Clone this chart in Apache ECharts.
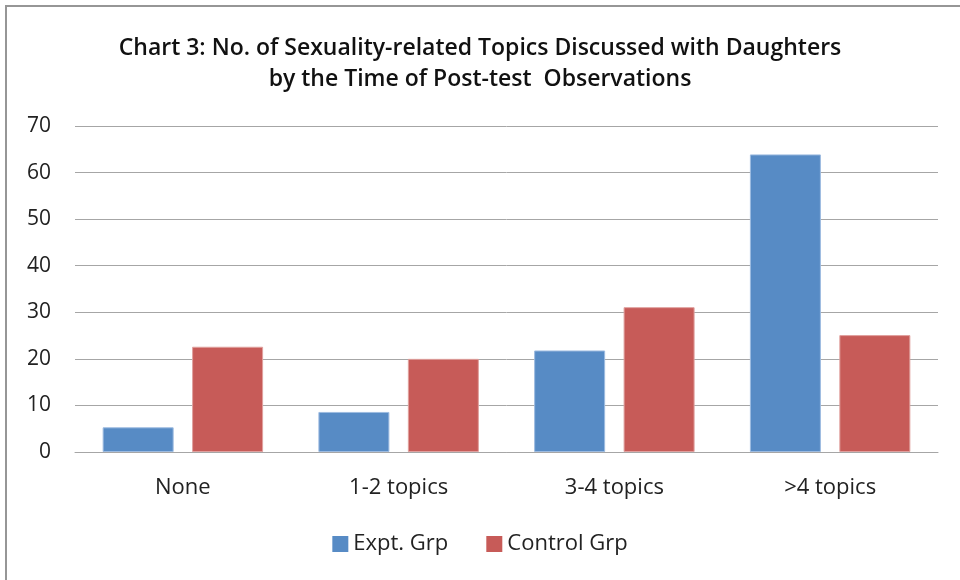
<!DOCTYPE html>
<html>
<head>
<meta charset="utf-8">
<script src="https://cdn.jsdelivr.net/npm/echarts@6/dist/echarts.min.js"></script>
<style>
  html, body { margin: 0; padding: 0; background: #fff; }
  #main { width: 960px; height: 580px; }
</style>
</head>
<body>
<div id="main"></div>
<script>
// chart data
var categories = ['None', '1-2 topics', '3-4 topics', '>4 topics'];
var exptGrp = [5.3, 8.6, 21.8, 63.9];
var controlGrp = [22.6, 20.0, 31.1, 25.1];
var yTicks = { min: 0, max: 70, interval: 10 };

var myChart = echarts.init(document.getElementById('main'));
var font = 'Open Sans';

var option = {
  backgroundColor: '#fff',
  animation: false,
  title: {
    text: 'Chart 3: No. of Sexuality-related Topics Discussed with Daughters\nby the Time of Post-test  Observations',
    left: 'center',
    top: 28,
    textStyle: {
      fontFamily: font,
      fontSize: 23,
      fontWeight: 600,
      color: '#111',
      lineHeight: 31,
    },
  },
  // the outer frame
  graphic: [
    {
      type: 'rect',
      shape: { x: 6, y: 6, width: 1000, height: 1000 },
      style: { fill: 'none', stroke: '#969696', lineWidth: 2 },
    },
  ],
  legend: {
    bottom: 20,
    left: 'center',
    icon: 'rect',
    itemWidth: 16,
    itemHeight: 16,
    itemGap: 38,
    itemStyle: { borderWidth: 0 },
    textStyle: { fontFamily: font, fontSize: 22, color: '#222' },
  },
  grid: {
    left: 75,
    right: 22,
    top: 126,
    bottom: 128,
  },
  xAxis: {
    type: 'category',
    data: categories,
    axisTick: { show: false },
    axisLine: { lineStyle: { color: '#a6a6a6', width: 1 } },
    axisLabel: { fontFamily: font, fontSize: 22, color: '#222', margin: 25 },
  },
  yAxis: {
    type: 'value',
    min: yTicks.min,
    max: yTicks.max,
    interval: yTicks.interval,
    axisLine: { show: false },
    axisTick: { show: false },
    splitLine: { lineStyle: { color: '#a6a6a6', width: 1 } },
    axisLabel: { fontFamily: font, fontSize: 21, color: '#222', margin: 24 },
  },
  series: [
    {
      name: 'Expt. Grp',
      type: 'bar',
      data: exptGrp,
      barWidth: 71,
      barGap: '26%',
      itemStyle: { color: '#578bc5', borderColor: '#9dbbe0', borderWidth: 1 },
    },
    {
      name: 'Control Grp',
      type: 'bar',
      data: controlGrp,
      barWidth: 71,
      itemStyle: { color: '#c75b58', borderColor: '#e0a09e', borderWidth: 1 },
    },
  ],
};
myChart.setOption(option);
</script>
</body>
</html>
